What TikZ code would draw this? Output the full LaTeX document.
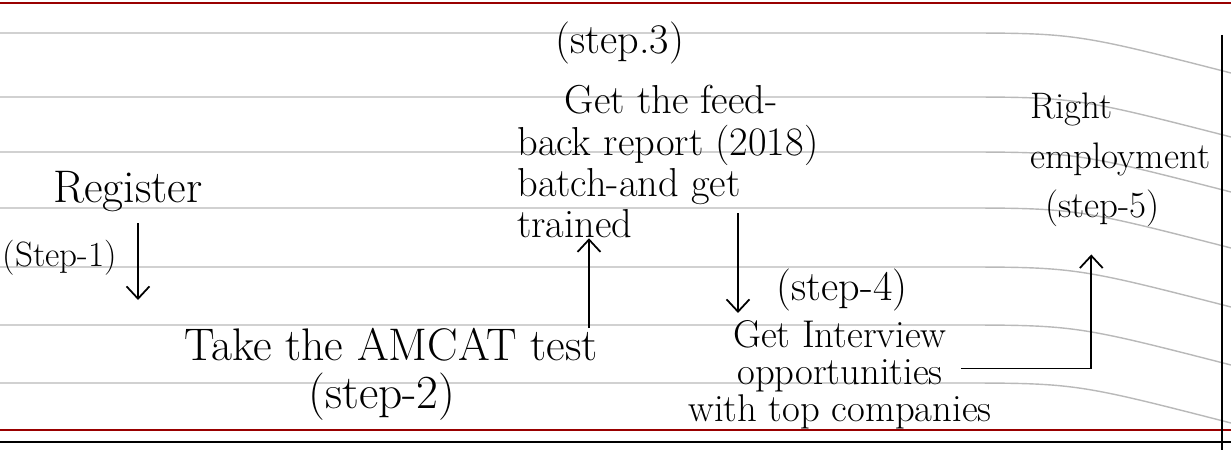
\documentclass[tikz,border=0pt]{standalone}
\usetikzlibrary{arrows.meta,calc}
\begin{document}
\begin{tikzpicture}[
    txt/.style={inner sep=0pt, font=\fontsize{24}{21}\selectfont},
    arr/.style={-{Straight Barb[length=7pt,width=13pt]}, line width=1pt},
    rule/.style={gray!55, line width=0.8pt}
  ]
  \useasboundingbox (0,0) rectangle (24.62,9);

  % Paper lines
  \foreach \y in {8.34,7.06,5.96,4.84,3.66,2.5,1.34}
    \draw[rule] (0,\y) -- (19,\y) .. controls (21.5,\y) .. (24.62,\y-0.8);
  \draw[red!60!black, line width=1pt] (0,8.94) -- (24.62,8.94);
  \draw[red!60!black, line width=1pt] (0,0.4) -- (24.62,0.4);
  \draw[line width=0.8pt] (0,0.16) -- (24.62,0.16);
  \draw[line width=0.8pt] (24.44,8.3) -- (24.44,0);

  % Steps
  \node[txt] (step3) at (12.4,8.14) {(step.3)};
  \node[txt, font=\fontsize{23}{23.5}\selectfont, align=left, anchor=north west] (feedback) at (10.34,7.3) {\hspace{0.95cm}Get the feed-\\back report (2018)\\batch-and get\\trained};
  \node[txt, font=\fontsize{26}{26}\selectfont] (register) at (2.56,5.16) {Register};
  \node[txt, font=\fontsize{20}{20}\selectfont, anchor=west] (step1) at (0.05,3.84) {(Step-1)};
  \node[txt, font=\fontsize{26}{26}\selectfont] (amcat) at (7.82,2.1) {Take the AMCAT test};
  \node[txt, font=\fontsize{27}{27}\selectfont] (step2) at (7.64,1.06) {(step-2)};
  \node[txt] (step4) at (16.84,3.2) {(step-4)};
  \node[txt, font=\fontsize{22}{21}\selectfont, align=center, anchor=north] (interview) at (16.8,2.6) {Get Interview\\opportunities\\with top companies};
  \node[txt, font=\fontsize{21}{28}\selectfont, align=left, anchor=north west] (employ) at (20.6,7.14) {Right\\employment\\\hspace{0.3cm}(step-5)};

  % Arrows
  \coordinate (a1) at (2.76,3.0);
  \draw[arr, shorten <=6pt] (register.south -| a1) -- (a1);
  \coordinate (a2) at (11.78,0);
  \draw[arr] (amcat.north -| a2) -- (feedback.south -| a2);
  \coordinate (a3) at (14.76,0);
  \draw[arr, shorten >=4pt] ($(feedback.south -| a3)+(0,0.5)$) -- (interview.north -| a3);
  \draw[arr] ($(interview.east)+(-0.62,0.12)$) -| ($(employ.south)+(-0.58,-0.55)$);
\end{tikzpicture}
\end{document}
